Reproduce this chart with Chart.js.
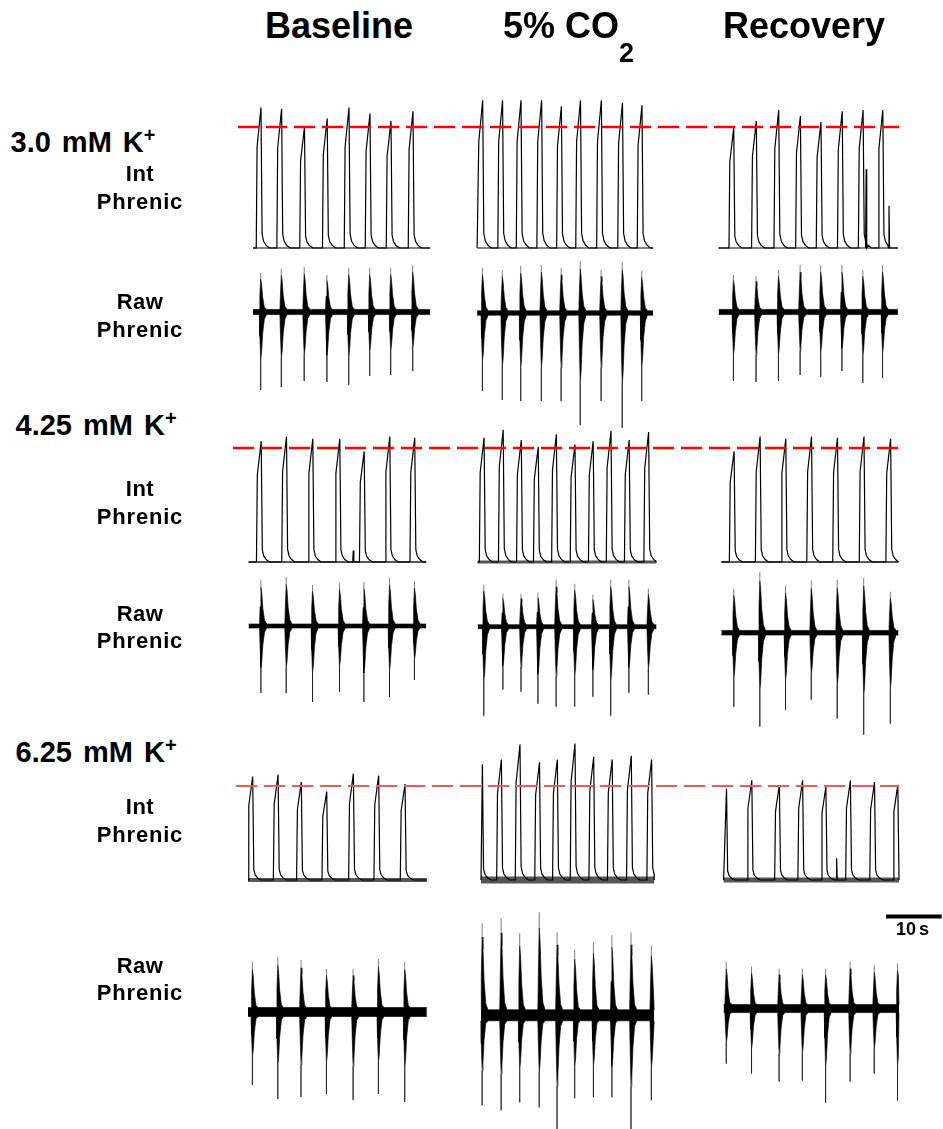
<!DOCTYPE html>
<html>
<head>
<meta charset="utf-8">
<script src="https://cdn.jsdelivr.net/npm/chart.js@4.4.1/dist/chart.umd.min.js"></script>
<style>
  html, body { margin: 0; padding: 0; background: #fff; }
  #fig { position: relative; width: 943px; height: 1129px; overflow: hidden;
         font-family: "Liberation Sans", Arial, Helvetica, sans-serif; color: #000; }
  #fig canvas { position: absolute; }
  .t { position: absolute; white-space: nowrap; font-weight: bold; }
</style>
</head>
<body>
<div id="fig"></div>
<script>
// ---------------------------------------------------------------
// Recordings: burst times (s from start of each sweep), integrated
// phrenic peak height (% of the reference level) and raw phrenic
// burst extents (upward / downward, a.u.).
// ---------------------------------------------------------------
const conditions = ['Baseline', '5% CO2', 'Recovery'];
const potassium  = ['3.0', '4.25', '6.25'];          // mM K+

// 3.0 mM K+
const span_3_0    = [[0.9, 32.7], [0.2, 31.8], [0.1, 32.3]];
const bursts_3_0  = [[2.33, 6.03, 10.14, 14.22, 18.13, 21.9, 25.67, 29.62],
                     [1.2, 4.77, 8.08, 11.78, 15.33, 18.76, 22.51, 26.3, 29.8],
                     [2.82, 6.88, 10.9, 14.79, 18.49, 22.3, 26.05, 29.59]];
const intPeak_3_0 = [[116, 115, 100, 107, 116, 111, 105, 113],
                     [122, 122, 122, 122, 117, 122, 122, 120, 118],
                     [99, 105, 114, 109, 104, 113, 114, 114]];
const intExtra_3_0 = [[], [], [[26.6, 65], [30.7, 35]]];
const rawUp_3_0   = [[39, 43, 45, 37, 44, 44, 44, 47],
                     [45, 43, 47, 48, 45, 52, 43, 51, 42],
                     [37, 36, 42, 47, 47, 47, 42, 47]];
const rawDown_3_0 = [[78, 75, 69, 70, 73, 64, 63, 59],
                     [78, 87, 88, 88, 88, 112, 88, 115, 88],
                     [69, 70, 69, 63, 65, 59, 71, 66]];
const rawLevel_3_0 = [0, -1, 0];

// 4.25 mM K+
const span_4_25    = [[0.1, 32.0], [0.3, 32.4], [0.6, 32.4]];
const bursts_4_25  = [[2.37, 6.91, 11.63, 16.48, 20.86, 25.46, 29.93],
                      [1.45, 4.88, 8.13, 11.17, 14.43, 17.77, 21.04, 24.24, 27.5, 30.99],
                      [2.89, 7.56, 12.17, 16.79, 21.45, 26.21, 30.99]];
const intPeak_4_25 = [[106, 110, 108, 108, 97, 110, 109],
                      [109, 116, 107, 101, 112, 103, 106, 115, 107, 114],
                      [97, 110, 108, 110, 109, 110, 108]];
const intExtra_4_25 = [[[18.9, 10]], [], []];
const rawUp_4_25   = [[46, 49, 41, 43, 44, 48, 45],
                      [42, 33, 33, 34, 47, 43, 32, 47, 47, 38],
                      [44, 61, 47, 52, 53, 55, 41]];
const rawDown_4_25 = [[67, 67, 76, 66, 76, 71, 54],
                      [89, 63, 65, 77, 80, 80, 70, 89, 66, 68],
                      [74, 94, 77, 67, 86, 102, 91]];
const rawLevel_4_25 = [0, -0.7, -6.7];

// 6.25 mM K+
const span_6_25    = [[0.0, 32.1], [0.9, 32.0], [1.0, 32.5]];
const bursts_6_25  = [[0.84, 5.4, 9.57, 14.13, 18.92, 23.46, 28.19],
                      [1.15, 4.56, 7.9, 11.4, 14.6, 17.77, 21.13, 24.45, 27.88, 31.53],
                      [1.53, 6.07, 11.02, 15.19, 19.37, 23.77, 28.1, 32.28]];
const intPeak_6_25 = [[110, 112, 104, 94, 113, 111, 102],
                      [123, 128, 144, 125, 128, 145, 131, 128, 132, 128],
                      [97, 106, 101, 106, 99, 106, 104, 101]];
const intExtra_6_25 = [[], [], [[21.3, 23]]];
const rawUp_6_25   = [[50, 55, 52, 43, 43, 53, 50],
                      [92, 97, 82, 103, 83, 66, 73, 80, 83, 70],
                      [47, 42, 40, 40, 40, 47, 43, 45]];
const rawDown_6_25 = [[73, 87, 85, 82, 88, 82, 90],
                      [90, 95, 87, 92, 115, 83, 82, 82, 115, 85],
                      [55, 65, 73, 72, 94, 73, 65, 92]];
const rawLevel_6_25 = [0, -3.3, 3.4];

const scaleBarSeconds = 10;
const referenceLevel = 100;

// Burst envelopes (time from burst centre in s, fraction of burst size)
const INT_SHAPE   = [[-0.85, 0], [-0.7, 0.72], [0, 1], [0.2, 0.1], [0.45, 0.05], [0.9, 0.02], [1.5, 0]];
const SPIKE_SHAPE = [[-0.1, 0], [0, 1], [0.1, 0]];
const RAW_SHAPE   = [[-0.3, 0], [-0.2, 0.5], [-0.05, 1], [0.1, 0.85], [0.3, 0.45], [0.6, 0.15], [1.0, 0]];
const RAW_CORE_UP = 0.85, RAW_CORE_DOWN = 0.62, RAW_TIP_DT = -0.05;

const rows = [
  { k: potassium[0], span: span_3_0, bursts: bursts_3_0, peak: intPeak_3_0, extra: intExtra_3_0,
    up: rawUp_3_0, down: rawDown_3_0, level: rawLevel_3_0 },
  { k: potassium[1], span: span_4_25, bursts: bursts_4_25, peak: intPeak_4_25, extra: intExtra_4_25,
    up: rawUp_4_25, down: rawDown_4_25, level: rawLevel_4_25 },
  { k: potassium[2], span: span_6_25, bursts: bursts_6_25, peak: intPeak_6_25, extra: intExtra_6_25,
    up: rawUp_6_25, down: rawDown_6_25, level: rawLevel_6_25 }
];

// ---------------------------------------------------------------
// Layout
// ---------------------------------------------------------------
const PX_PER_S = 5.57;
const ORIGIN_X = 248;                       // page x of t = 0 in first column
const COL_LEFT = [248, 476, 718];           // page x of each sweep's t = 0
const CHART_LEFT = 226, CHART_RIGHT = 910;
const geom = [
  { intBase: 248.5, intRef: 127.3, rawBase: 312.3, dashFrom: 238, dashColor: '#ff0000', dashWidth: 2.5,
    intBand: [1.6, 1.6, 1.6], rawNoise: [2.6, 2.2, 2.6],
    kBase: 152.3, kLeft: 10.5, intLabel: 181.7, rawLabel: 310 },
  { intBase: 561.7, intRef: 447.7, rawBase: 626.0, dashFrom: 233, dashColor: '#ff0000', dashWidth: 2.5,
    intBand: [1.8, 3.2, 2], rawNoise: [2, 2, 2.3],
    kBase: 436, kLeft: 15.5, intLabel: 496.7, rawLabel: 621.7 },
  { intBase: 880.0, intRef: 785.7, rawBase: 1011.7, dashFrom: 236, dashColor: '#f25a5a', dashWidth: 2,
    intBand: [4, 7, 5], rawNoise: [4.5, 5.5, 4],
    kBase: 762.3, kLeft: 15.5, intLabel: 815, rawLabel: 973.3 }
];
const DASH_TO = 899;

const fig = document.getElementById('fig');
const sec = px => (px - ORIGIN_X) / PX_PER_S;
const colOffset = c => (COL_LEFT[c] - ORIGIN_X) / PX_PER_S;

function makeChart(top, height, ymin, ymax, datasets, left = CHART_LEFT, right = CHART_RIGHT) {
  const cv = document.createElement('canvas');
  const w = right - left;
  cv.width = w; cv.height = height;
  cv.style.left = left + 'px'; cv.style.top = top + 'px';
  cv.style.width = w + 'px'; cv.style.height = height + 'px';
  fig.appendChild(cv);
  return new Chart(cv, {
    type: 'line',
    data: { datasets },
    options: {
      responsive: false, animation: false, devicePixelRatio: 1, events: [],
      layout: { padding: 0 },
      plugins: { legend: { display: false }, tooltip: { enabled: false } },
      elements: { point: { radius: 0 }, line: { tension: 0, capBezierPoints: false } },
      scales: {
        x: { type: 'linear', display: false, min: sec(left), max: sec(right) },
        y: { type: 'linear', display: false, min: ymin, max: ymax }
      }
    }
  });
}

function shaped(times, sizes, shape, floor) {
  const pts = [];
  times.forEach((t, i) => shape.forEach(([dt, f]) => pts.push({ x: t + dt, y: Math.max(floor, f * sizes[i]) })));
  return pts;
}

function clipSort(pts, span, off, level = 0) {
  return pts.filter(p => p.x >= span[0] && p.x <= span[1])
            .sort((a, b) => a.x - b.x)
            .map(p => ({ x: p.x + off, y: p.y + level }));
}

rows.forEach((row, r) => {
  const g = geom[r];

  // ---- integrated phrenic ----
  const ppu = (g.intBase - g.intRef) / referenceLevel;   // px per % of reference
  const top = g.intRef - 64, bottom = g.intBase + 14;
  const intSets = [];
  intSets.push({
    data: [{ x: sec(g.dashFrom), y: referenceLevel }, { x: sec(DASH_TO), y: referenceLevel }],
    borderColor: g.dashColor, borderWidth: g.dashWidth, borderDash: [21, 7], borderCapStyle: 'butt', fill: false
  });
  for (let c = 0; c < 3; c++) {
    const sp = row.span[c], off = colOffset(c);
    const ex = row.extra[c];
    const pts = [{ x: sp[0], y: 0 }, { x: sp[1], y: 0 }]
      .concat(shaped(row.bursts[c], row.peak[c], INT_SHAPE, 0))
      .concat(shaped(ex.map(e => e[0]), ex.map(e => e[1]), SPIKE_SHAPE, 0));
    intSets.push({ data: clipSort(pts, sp, off), borderColor: '#000', borderWidth: 1.2, fill: false });
  }
  for (let c = 0; c < 3; c++) {
    const sp = row.span[c], off = colOffset(c);
    intSets.push({ data: [{ x: sp[0] + off, y: 0 }, { x: sp[1] + off, y: 0 }],
      borderColor: 'rgba(30,30,30,0.75)', borderWidth: g.intBand[c], borderCapStyle: 'butt', fill: false });
  }
  makeChart(top, bottom - top, -(bottom - g.intBase) / ppu, (g.intBase - top) / ppu, intSets);

  // ---- raw phrenic ----
  const rTop = g.rawBase - 125, rBottom = g.rawBase + 135;
  const tips = [], env = [];
  for (let c = 0; c < 3; c++) {
    const sp = row.span[c], off = colOffset(c), lv = row.level[c], n = g.rawNoise[c];
    const upCore = row.up[c].map(v => v * RAW_CORE_UP);
    const dnCore = row.down[c].map(v => v * RAW_CORE_DOWN);
    const upper = [{ x: sp[0], y: n }, { x: sp[1], y: n }].concat(shaped(row.bursts[c], upCore, RAW_SHAPE, n));
    const lower = [{ x: sp[0], y: n }, { x: sp[1], y: n }].concat(shaped(row.bursts[c], dnCore, RAW_SHAPE, n))
                  .map(p => ({ x: p.x, y: -p.y }));
    env.push({ data: clipSort(upper, sp, off, lv), borderColor: 'rgba(0,0,0,0.8)', borderWidth: 0.8,
               backgroundColor: '#000', fill: '+1' });
    env.push({ data: clipSort(lower, sp, off, lv), borderColor: 'rgba(0,0,0,0.8)', borderWidth: 0.8, fill: false });
    row.bursts[c].forEach((t, i) => {
      const x = t + RAW_TIP_DT + off;
      tips.push({ x, y: lv + upCore[i] }, { x, y: lv + row.up[c][i] }, { x, y: null });
      tips.push({ x, y: lv - dnCore[i] }, { x, y: lv - row.down[c][i] }, { x, y: null });
    });
  }
  const rawSets = env.concat([{ data: tips, borderColor: 'rgba(0,0,0,0.5)', borderWidth: 1, spanGaps: false, fill: false }]);
  makeChart(rTop, rBottom - rTop, -(rBottom - g.rawBase), g.rawBase - rTop, rawSets);
});

// ---- 10 s scale bar ----
(function () {
  const left = 880, right = 950, top = 906, h = 20, barY = 916.5;
  makeChart(top, h, -(top + h - barY), barY - top,
    [{ data: [{ x: sec(886), y: 0 }, { x: sec(886) + scaleBarSeconds, y: 0 }],
       borderColor: '#000', borderWidth: 4, borderCapStyle: 'butt', fill: false }], left, right);
})();

// ---------------------------------------------------------------
// Text
// ---------------------------------------------------------------
function text(html, left, baseline, size, extra = '') {
  const d = document.createElement('div');
  d.className = 't';
  d.innerHTML = html;
  d.style.cssText += `left:${left}px;top:${baseline - 0.8465 * size}px;font-size:${size}px;line-height:${size}px;${extra}`;
  fig.appendChild(d);
  return d;
}
function centered(html, cx, baseline, size, extra = '') {
  return text(html, cx - 100, baseline, size, `width:200px;text-align:center;${extra}`);
}

const titleLeft = [265, 503, 723];
conditions.forEach((c, i) => {
  const html = c.replace('CO2', 'CO<span style="font-size:27px;position:relative;top:24px;">2</span>');
  text(html, titleLeft[i], 38.5, 36);
});

rows.forEach((row, r) => {
  const g = geom[r];
  text(`${row.k} mM K<span style="font-size:20px;position:relative;top:-10px;">+</span>`,
       g.kLeft, g.kBase, 29, 'word-spacing:3px;');
  centered('Int', 140, g.intLabel, 22, 'letter-spacing:0.5px;');
  centered('Phrenic', 140, g.intLabel + 27.6, 22, 'letter-spacing:0.8px;');
  centered('Raw', 140, g.rawLabel, 22, 'letter-spacing:0.5px;');
  centered('Phrenic', 140, g.rawLabel + 27.3, 22, 'letter-spacing:0.8px;');
});

text('10<span style="margin-left:3px">s</span>', 896, 935, 18);
</script>
</body>
</html>
